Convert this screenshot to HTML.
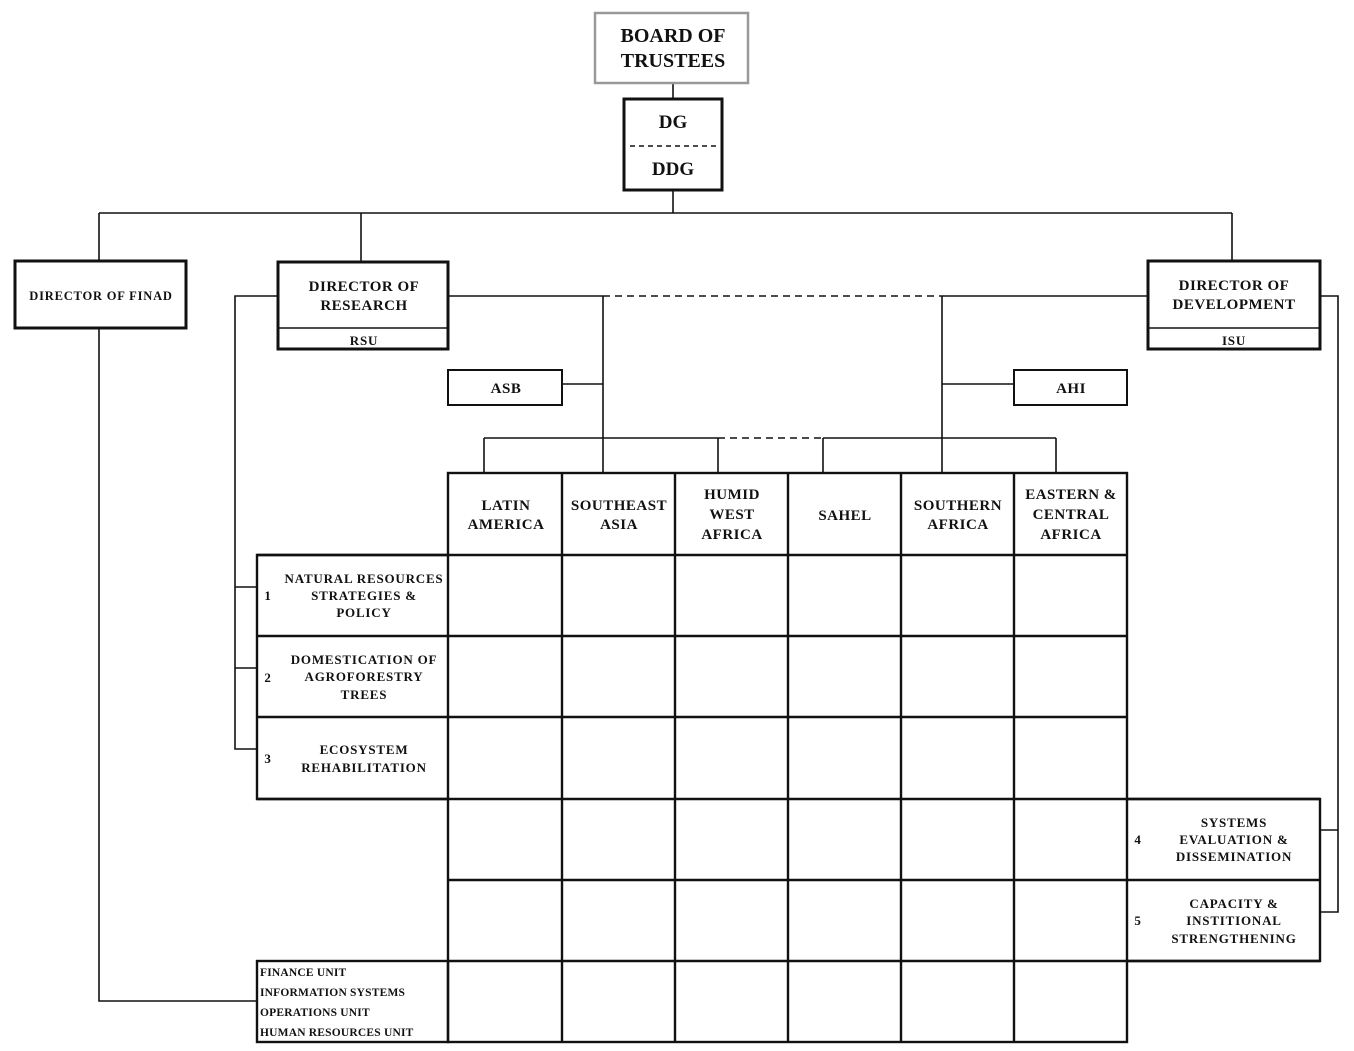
<!DOCTYPE html>
<html><head><meta charset="utf-8"><style>
html,body{margin:0;padding:0;background:#fff;}
svg{display:block;}
text{font-family:"Liberation Serif",serif;font-weight:bold;fill:#111;text-anchor:middle;}
.h{font-size:15px;letter-spacing:0.5px;}
.s{font-size:13px;letter-spacing:0.8px;}
.u{font-size:11.5px;letter-spacing:0.2px;text-anchor:start;}
</style></head><body>
<svg width="1354" height="1051" viewBox="0 0 1354 1051" xmlns="http://www.w3.org/2000/svg">
<g fill="none" stroke="#111" stroke-width="1.6">
<!-- top connectors -->
<line x1="673" y1="83" x2="673" y2="99"/>
<line x1="673" y1="190" x2="673" y2="213"/>
<line x1="99" y1="213" x2="1232" y2="213"/>
<line x1="99" y1="213" x2="99" y2="261"/>
<line x1="361" y1="213" x2="361" y2="262"/>
<line x1="1232" y1="213" x2="1232" y2="261"/>
<!-- research/development line -->
<line x1="448" y1="296" x2="603" y2="296"/>
<line x1="603" y1="296" x2="942" y2="296" stroke-dasharray="7,5"/>
<line x1="942" y1="296" x2="1148" y2="296"/>
<line x1="603" y1="296" x2="603" y2="473"/>
<line x1="942" y1="296" x2="942" y2="473"/>
<line x1="562" y1="384" x2="603" y2="384"/>
<line x1="942" y1="384" x2="1014" y2="384"/>
<line x1="484" y1="438" x2="718" y2="438"/>
<line x1="718" y1="438" x2="823" y2="438" stroke-dasharray="7,5"/>
<line x1="823" y1="438" x2="1056" y2="438"/>
<line x1="484" y1="438" x2="484" y2="473"/>
<line x1="718" y1="438" x2="718" y2="473"/>
<line x1="823" y1="438" x2="823" y2="473"/>
<line x1="1056" y1="438" x2="1056" y2="473"/>
<!-- left bracket -->
<polyline points="278,296 235,296 235,749 257,749"/>
<line x1="235" y1="587" x2="257" y2="587"/>
<line x1="235" y1="668" x2="257" y2="668"/>
<!-- right bracket -->
<polyline points="1320,296 1338,296 1338,912 1320,912"/>
<line x1="1320" y1="830" x2="1338" y2="830"/>
<!-- finad line -->
<polyline points="99,328 99,1001 257,1001"/>
</g>
<!-- boxes -->
<rect x="595" y="13" width="153" height="70" fill="#fff" stroke="#999" stroke-width="2.5"/>
<rect x="624" y="99" width="98" height="91" fill="#fff" stroke="#111" stroke-width="3"/>
<line x1="630" y1="146" x2="716" y2="146" stroke="#111" stroke-width="1.6" stroke-dasharray="5,4"/>
<rect x="15" y="261" width="171" height="67" fill="#fff" stroke="#111" stroke-width="3"/>
<rect x="278" y="262" width="170" height="87" fill="#fff" stroke="#111" stroke-width="3"/>
<line x1="278" y1="328" x2="448" y2="328" stroke="#111" stroke-width="1.6"/>
<rect x="1148" y="261" width="172" height="88" fill="#fff" stroke="#111" stroke-width="3"/>
<line x1="1148" y1="328" x2="1320" y2="328" stroke="#111" stroke-width="1.6"/>
<rect x="448" y="370" width="114" height="35" fill="#fff" stroke="#111" stroke-width="2"/>
<rect x="1014" y="370" width="113" height="35" fill="#fff" stroke="#111" stroke-width="2"/>
<!-- grid -->
<g fill="none" stroke="#111" stroke-width="2.4">
<rect x="448" y="473" width="679" height="569"/>
<line x1="562" y1="473" x2="562" y2="1042"/>
<line x1="675" y1="473" x2="675" y2="1042"/>
<line x1="788" y1="473" x2="788" y2="1042"/>
<line x1="901" y1="473" x2="901" y2="1042"/>
<line x1="1014" y1="473" x2="1014" y2="1042"/>
<line x1="257" y1="555" x2="1127" y2="555"/>
<line x1="257" y1="636" x2="1127" y2="636"/>
<line x1="257" y1="717" x2="1127" y2="717"/>
<line x1="257" y1="799" x2="1320" y2="799"/>
<line x1="448" y1="880" x2="1320" y2="880"/>
<line x1="448" y1="961" x2="1320" y2="961"/>
<polyline points="448,555 257,555 257,799 448,799"/>
<polyline points="1127,799 1320,799 1320,961 1127,961"/>
<rect x="257" y="961" width="191" height="81"/>
</g>
<!-- text -->
<text x="673" y="42" style="font-size:20px">BOARD OF</text>
<text x="673" y="67" style="font-size:20px">TRUSTEES</text>
<text x="673" y="128" style="font-size:19px">DG</text>
<text x="673" y="175" style="font-size:19px">DDG</text>
<text x="101" y="300" class="s" style="font-size:12.5px">DIRECTOR OF FINAD</text>
<text x="364" y="291" class="h">DIRECTOR OF</text>
<text x="364" y="310" class="h">RESEARCH</text>
<text x="364" y="345" class="s">RSU</text>
<text x="1234" y="290" class="h">DIRECTOR OF</text>
<text x="1234" y="309" class="h">DEVELOPMENT</text>
<text x="1234" y="345" class="s">ISU</text>
<text x="506" y="393" class="h">ASB</text>
<text x="1071" y="393" class="h">AHI</text>
<text x="506" y="510" class="h">LATIN</text>
<text x="506" y="529" class="h">AMERICA</text>
<text x="619" y="510" class="h">SOUTHEAST</text>
<text x="619" y="529" class="h">ASIA</text>
<text x="732" y="499" class="h">HUMID</text>
<text x="732" y="519" class="h">WEST</text>
<text x="732" y="539" class="h">AFRICA</text>
<text x="845" y="520" class="h">SAHEL</text>
<text x="958" y="510" class="h">SOUTHERN</text>
<text x="958" y="529" class="h">AFRICA</text>
<text x="1071" y="499" class="h">EASTERN &amp;</text>
<text x="1071" y="519" class="h">CENTRAL</text>
<text x="1071" y="539" class="h">AFRICA</text>
<text x="268" y="600" class="s">1</text>
<text x="364" y="583" class="s">NATURAL RESOURCES</text>
<text x="364" y="600" class="s">STRATEGIES &amp;</text>
<text x="364" y="617" class="s">POLICY</text>
<text x="268" y="682" class="s">2</text>
<text x="364" y="664" class="s">DOMESTICATION OF</text>
<text x="364" y="681" class="s">AGROFORESTRY</text>
<text x="364" y="699" class="s">TREES</text>
<text x="268" y="763" class="s">3</text>
<text x="364" y="754" class="s">ECOSYSTEM</text>
<text x="364" y="772" class="s">REHABILITATION</text>
<text x="1138" y="844" class="s">4</text>
<text x="1234" y="827" class="s">SYSTEMS</text>
<text x="1234" y="844" class="s">EVALUATION &amp;</text>
<text x="1234" y="861" class="s">DISSEMINATION</text>
<text x="1138" y="925" class="s">5</text>
<text x="1234" y="908" class="s">CAPACITY &amp;</text>
<text x="1234" y="925" class="s">INSTITIONAL</text>
<text x="1234" y="943" class="s">STRENGTHENING</text>
<text x="260" y="976" class="u">FINANCE UNIT</text>
<text x="260" y="996" class="u">INFORMATION SYSTEMS</text>
<text x="260" y="1016" class="u">OPERATIONS UNIT</text>
<text x="260" y="1036" class="u">HUMAN RESOURCES UNIT</text>
</svg>
</body></html>
